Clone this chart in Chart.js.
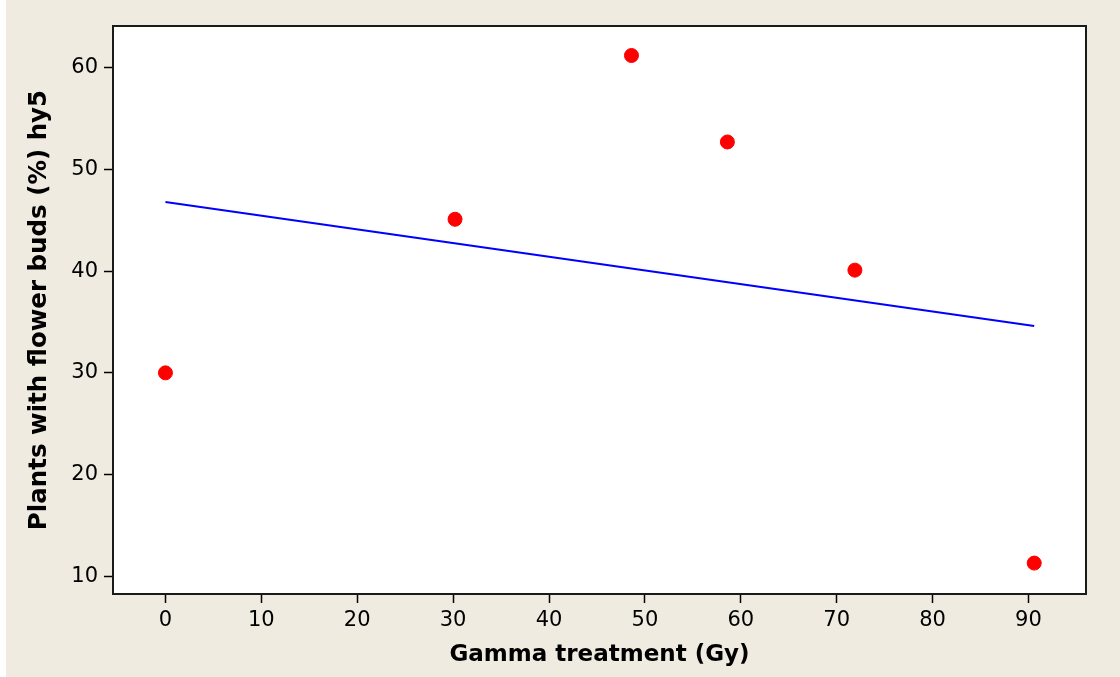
<!DOCTYPE html>
<html>
<head>
<meta charset="utf-8">
<script src="https://cdn.jsdelivr.net/npm/chart.js@4.4.1/dist/chart.umd.min.js"></script>
<style>
  html, body { margin: 0; padding: 0; background: #ffffff; }
  #wrap { position: absolute; left: 6px; top: 0; width: 1114px; height: 677px; }
</style>
</head>
<body>
<div id="wrap"><canvas id="gammaChart"></canvas></div>
<script>
// gamma dose (Gy) and % of plants with flower buds, hy5
var doseGy = [0, 30.2, 48.6, 58.6, 71.9, 90.6];
var budsPct = [30.0, 45.1, 61.2, 52.7, 40.1, 11.3];

// fitted regression line end points
var fitX = [0, 90.6];
var fitY = [46.8, 34.6];

var xTicks = [0, 10, 20, 30, 40, 50, 60, 70, 80, 90];
var yTicks = [10, 20, 30, 40, 50, 60];

var bgColor = "#efebe1";

var scatterPoints = [];
for (var i = 0; i < doseGy.length; i++) {
  scatterPoints.push({ x: doseGy[i], y: budsPct[i] });
}
var fitPoints = [];
for (var j = 0; j < fitX.length; j++) {
  fitPoints.push({ x: fitX[j], y: fitY[j] });
}

// beige page, white plot area and black frame around it
var frame = {
  id: "frame",
  beforeDraw: function(chart) {
    var ctx = chart.ctx;
    var a = chart.chartArea;
    ctx.save();
    ctx.fillStyle = bgColor;
    ctx.fillRect(0, 0, chart.width, chart.height);
    ctx.fillStyle = "#ffffff";
    ctx.fillRect(a.left, a.top, a.right - a.left, a.bottom - a.top);
    ctx.restore();
  },
  afterDraw: function(chart) {
    var ctx = chart.ctx;
    var a = chart.chartArea;
    ctx.save();
    ctx.strokeStyle = "#1a1a1a";
    ctx.lineWidth = 2;
    ctx.strokeRect(a.left, a.top, a.right - a.left, a.bottom - a.top);
    ctx.restore();
  }
};

var tickFont = { family: "'DejaVu Sans', sans-serif", size: 21 };
var xTitleFont = { family: "'DejaVu Sans', sans-serif", size: 23, weight: "bold" };
var yTitleFont = { family: "'DejaVu Sans', sans-serif", size: 24.5, weight: "bold" };

var ctx = document.getElementById("gammaChart").getContext("2d");
var chart = new Chart(ctx, {
  type: "scatter",
  data: {
    datasets: [{
      type: "line",
      data: fitPoints,
      borderColor: "#0000ff",
      borderWidth: 2,
      pointRadius: 0,
      fill: false,
      order: 2
    }, {
      data: scatterPoints,
      backgroundColor: "#ff0000",
      borderColor: "#ff0000",
      pointRadius: 7,
      pointHoverRadius: 7,
      order: 1
    }]
  },
  options: {
    responsive: true,
    maintainAspectRatio: false,
    animation: false,
    events: [],
    layout: { padding: { left: 0, top: 26, right: 34, bottom: 0 } },
    plugins: {
      legend: { display: false },
      tooltip: { enabled: false }
    },
    scales: {
      x: {
        type: "linear",
        min: -5.47,
        max: 96.0,
        afterBuildTicks: function(scale) {
          scale.ticks = xTicks.map(function(v) { return { value: v }; });
        },
        afterFit: function(scale) { scale.height = 83; },
        grid: { drawOnChartArea: false, drawTicks: true, tickLength: 9, tickColor: "#000", tickWidth: 1.5 },
        border: { display: false },
        ticks: { color: "#000", font: tickFont, padding: 5, maxRotation: 0 },
        title: {
          display: true,
          text: "Gamma treatment (Gy)",
          color: "#000",
          font: xTitleFont,
          padding: { top: 0, bottom: 8 }
        }
      },
      y: {
        type: "linear",
        min: 8.26,
        max: 64.1,
        afterBuildTicks: function(scale) {
          scale.ticks = yTicks.map(function(v) { return { value: v }; });
        },
        afterFit: function(scale) { scale.width = 107; },
        grid: { drawOnChartArea: false, drawTicks: true, tickLength: 9, tickColor: "#000", tickWidth: 1.5 },
        border: { display: false },
        ticks: { color: "#000", font: tickFont, padding: 6 },
        title: {
          display: true,
          text: "Plants with flower buds (%) hy5",
          color: "#000",
          font: yTitleFont,
          padding: { top: 19, bottom: 0 }
        }
      }
    }
  },
  plugins: [frame]
});
</script>
</body>
</html>
